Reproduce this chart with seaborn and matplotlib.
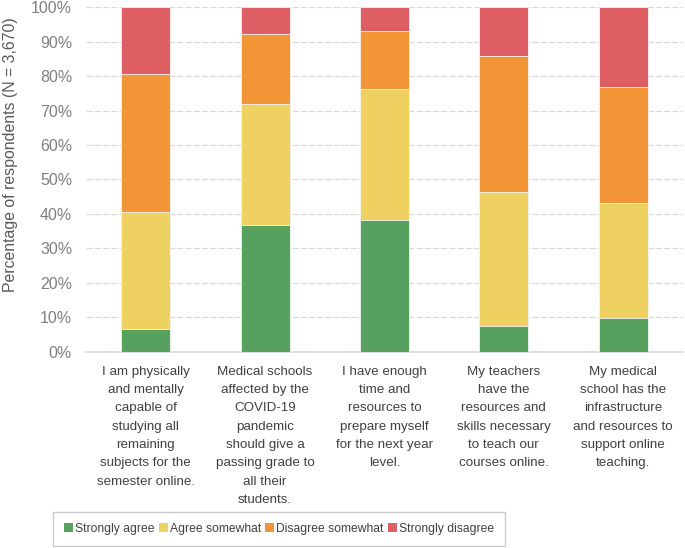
import numpy as np
import pandas as pd
import matplotlib.pyplot as plt
import seaborn as sns
from matplotlib.patches import Patch

# %%
# data (percent of respondents)
statements = [
    "I am physically\nand mentally\ncapable of\nstudying all\nremaining\nsubjects for the\nsemester online.",
    "Medical schools\naffected by the\nCOVID-19\npandemic\nshould give a\npassing grade to\nall their\nstudents.",
    "I have enough\ntime and\nresources to\nprepare myself\nfor the next year\nlevel.",
    "My teachers\nhave the\nresources and\nskills necessary\nto teach our\ncourses online.",
    "My medical\nschool has the\ninfrastructure\nand resources to\nsupport online\nteaching.",
]
responses = ["Strongly agree", "Agree somewhat", "Disagree somewhat", "Strongly disagree"]
strongly_agree = [6.5, 36.8, 38.3, 7.5, 9.8]
agree_somewhat = [34.0, 35.1, 37.9, 38.9, 33.5]
disagree_somewhat = [40.2, 20.3, 16.8, 39.3, 33.4]
strongly_disagree = [19.3, 7.8, 7.0, 14.3, 23.3]
colors = ["#57A15E", "#EFD161", "#F19537", "#DE5F63"]

df = pd.DataFrame({
    "Statement": statements,
    "Strongly agree": strongly_agree,
    "Agree somewhat": agree_somewhat,
    "Disagree somewhat": disagree_somewhat,
    "Strongly disagree": strongly_disagree,
})
# cumulative tops for stacking
cum = df[responses].cumsum(axis=1)

# %%
sns.set_theme(style="white")
plt.rcParams["font.family"] = ["Liberation Sans", "DejaVu Sans"]

fig, ax = plt.subplots(figsize=(6.85, 5.48), dpi=100)
fig.subplots_adjust(left=0.1255, right=0.997, top=0.987, bottom=0.358)

# draw the tallest (cumulative) bars first, then overlay the smaller ones
for resp, col in reversed(list(zip(responses, colors))):
    sns.barplot(x=df["Statement"], y=cum[resp], color=col, width=0.41, saturation=1,
                edgecolor="#f4f4f4", linewidth=0.6, ax=ax, zorder=3)

ax.set_ylim(0, 100)
ax.set_xlim(-0.5, 4.5)
ax.set_yticks(np.arange(0, 101, 10))
ax.set_yticklabels([f"{v}%" for v in range(0, 101, 10)])
ax.yaxis.grid(True, linestyle=(0, (5, 1.6)), color="#d9d9d9", linewidth=0.9, zorder=0)
ax.set_axisbelow(True)
for s in ["top", "right", "left"]:
    ax.spines[s].set_visible(False)
ax.spines["bottom"].set_color("#d9d9d9")
ax.spines["bottom"].set_linewidth(1.2)

ax.tick_params(axis="y", length=0, pad=10, labelsize=11.5, labelcolor="#7f7f7f")
ax.tick_params(axis="x", length=0, pad=10, labelsize=9.6, labelcolor="#404040")
for lbl in ax.get_xticklabels():
    lbl.set_horizontalalignment("center")
    lbl.set_linespacing(1.7)

ax.set_xlabel(None)
ax.set_ylabel("Percentage of respondents (N = 3,670)", fontsize=11.4, color="#595959")
ax.yaxis.set_label_coords(-0.114, 0.571)

handles = [Patch(facecolor=c, edgecolor="none") for c in colors]
fig.legend(handles, responses, loc="center", bbox_to_anchor=(279 / 685, 1 - 529 / 548),
           ncol=4, frameon=True, fancybox=False, edgecolor="#bfbfbf", fontsize=8.7,
           labelcolor="#404040", handlelength=0.75, handleheight=0.75, handletextpad=0.15,
           columnspacing=0.35, borderpad=0.95)

fig.savefig("out.png", dpi=100)
